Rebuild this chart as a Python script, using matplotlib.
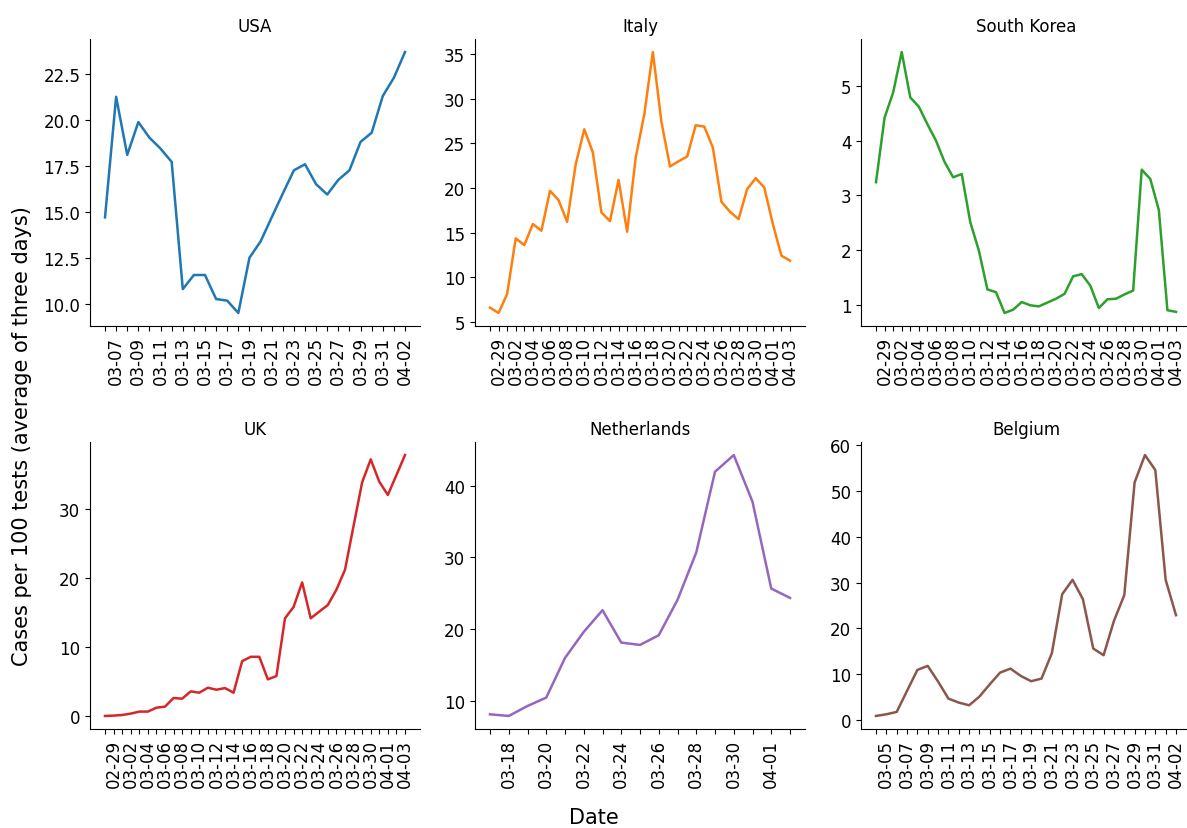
import matplotlib
matplotlib.use('Agg')
import matplotlib.pyplot as plt
from matplotlib.ticker import MultipleLocator
import pandas as pd

# share of positive tests per country, 3-day average
countries = ['USA', 'Italy', 'South Korea', 'UK', 'Netherlands', 'Belgium']
colors = ['tab:blue', 'tab:orange', 'tab:green', 'tab:red', 'tab:purple', 'tab:brown']
start_dates = ['2020-03-06', '2020-02-28', '2020-02-28', '2020-02-28', '2020-03-17', '2020-03-04']

usa = [14.7, 21.28, 18.11, 19.9, 19.05, 18.45, 17.73, 10.79, 11.56, 11.56,
       10.25, 10.16, 9.49, 12.5, 13.39, 14.7, 16.0, 17.27, 17.6, 16.51,
       15.95, 16.75, 17.27, 18.82, 19.32, 21.32, 22.32, 23.72]
italy = [6.57, 5.97, 8.1, 14.34, 13.59, 15.95, 15.2, 19.68, 18.63, 16.2,
         22.67, 26.59, 23.98, 17.25, 16.28, 20.91, 15.09, 23.42, 28.27, 35.26,
         27.41, 22.41, 23.0, 23.53, 27.04, 26.89, 24.54, 18.45, 17.33, 16.5,
         19.87, 21.1, 20.05, 15.95, 12.4, 11.84]
korea = [3.24, 4.42, 4.88, 5.62, 4.79, 4.62, 4.3, 4.0, 3.61, 3.33,
         3.39, 2.51, 1.99, 1.28, 1.23, 0.85, 0.91, 1.05, 0.99, 0.97,
         1.04, 1.11, 1.2, 1.52, 1.56, 1.35, 0.94, 1.1, 1.11, 1.19,
         1.26, 3.47, 3.3, 2.73, 0.9, 0.87]
uk = [0.0, 0.05, 0.14, 0.34, 0.63, 0.63, 1.2, 1.35, 2.6, 2.5,
      3.56, 3.37, 4.09, 3.8, 4.04, 3.37, 7.94, 8.57, 8.57, 5.3,
      5.78, 14.15, 15.79, 19.35, 14.15, 15.12, 16.08, 18.3, 21.18, 27.54,
      33.85, 37.17, 33.94, 32.02, 34.9, 37.8]
netherlands = [8.14, 7.91, 9.3, 10.47, 16.0, 19.63, 22.65, 18.14, 17.81, 19.16,
               24.09, 30.7, 41.95, 44.28, 37.77, 25.67, 24.37]
belgium = [0.87, 1.24, 1.75, 6.34, 10.92, 11.8, 8.38, 4.66, 3.79, 3.2,
           5.1, 7.79, 10.34, 11.2, 9.6, 8.45, 9.03, 14.57, 27.46, 30.59,
           26.37, 15.59, 14.13, 21.63, 27.24, 51.86, 57.83, 54.55, 30.59, 22.87]
series = [usa, italy, korea, uk, netherlands, belgium]

W, H = 1187, 829
fig = plt.figure(figsize=(W / 100, H / 100), dpi=100)
lefts = [90, 475, 861]
tops = [40, 443]
aw, ah = 330, 287

for i, (name, vals) in enumerate(zip(countries, series)):
    r, c = divmod(i, 3)
    ax = fig.add_axes([lefts[c] / W, 1 - (tops[r] + ah) / H, aw / W, ah / H])
    dates = pd.date_range(start_dates[i], periods=len(vals)).strftime('%m-%d')
    x = range(len(vals))
    ax.plot(x, vals, color=colors[i], linewidth=1.8)
    ax.set_xticks(list(x))
    ax.set_xticklabels([d if k % 2 == 1 else '' for k, d in enumerate(dates)],
                       rotation=90, fontsize=12)
    ax.tick_params(axis='y', labelsize=12)
    if name == 'USA':
        ax.yaxis.set_major_locator(MultipleLocator(2.5))
    ax.set_title(name, fontsize=12)
    ax.spines['top'].set_visible(False)
    ax.spines['right'].set_visible(False)

fig.text(22 / W, 1 - 436 / H, 'Cases per 100 tests (average of three days)',
         rotation=90, ha='center', va='center', fontsize=15)
fig.text(0.5, 1 - 818 / H, 'Date', ha='center', va='center', fontsize=15)

fig.savefig('out.png', dpi=100)
